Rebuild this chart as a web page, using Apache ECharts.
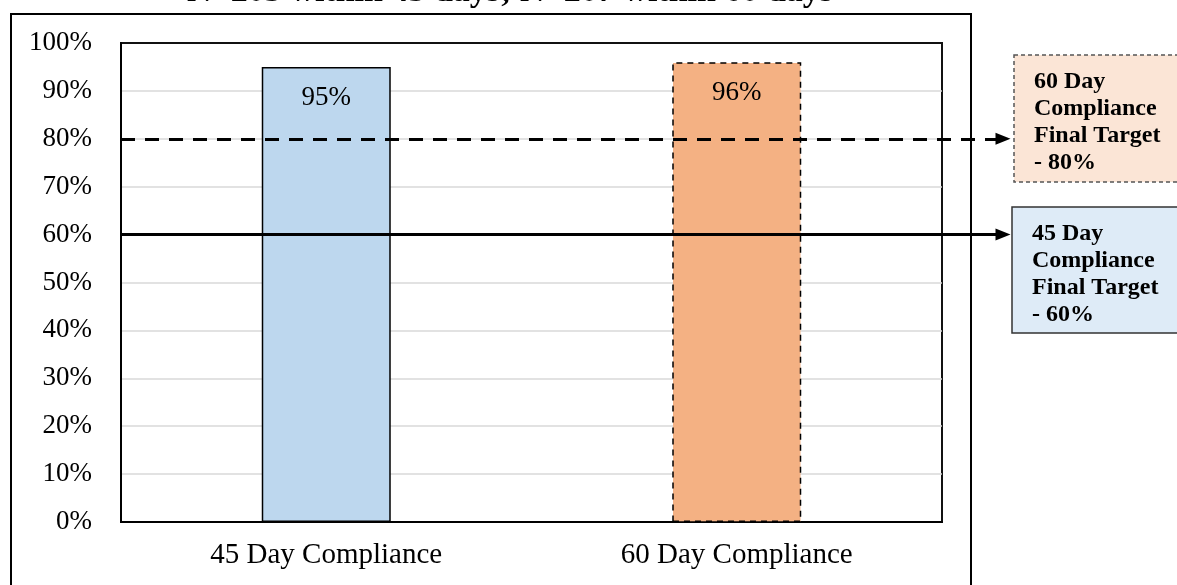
<!DOCTYPE html>
<html>
<head>
<meta charset="utf-8">
<script src="https://cdn.jsdelivr.net/npm/echarts@6/dist/echarts.min.js"></script>
<style>
  html, body { margin: 0; padding: 0; background: #fff; }
  #chart { width: 1177px; height: 585px; }
</style>
</head>
<body>
<div id="chart"></div>
<script>
const categories = ['45 Day Compliance', '60 Day Compliance']
const compliance = [95, 96]
const targets = [80, 60]
const yTicks = [0, 10, 20, 30, 40, 50, 60, 70, 80, 90, 100]
const titleText = 'N=203 within 45 days; N=207 within 60 days'

const serif = '"Liberation Serif", "DejaVu Serif", serif'

const chart = echarts.init(document.getElementById('chart'))

const option = {
  animation: false,
  backgroundColor: '#fff',
  grid: [
    { left: 121, right: 235, top: 43, bottom: 63, show: true, borderColor: '#111', borderWidth: 2 },
    { left: 121, right: 174, top: 43, bottom: 63 }
  ],
  xAxis: [
    {
      type: 'category',
      gridIndex: 0,
      data: categories,
      axisTick: { show: false },
      axisLine: { lineStyle: { color: '#000', width: 2 } },
      axisLabel: { color: '#000', fontFamily: serif, fontSize: 29, margin: 19 }
    },
    { type: 'value', gridIndex: 1, min: 0, max: 1, show: false }
  ],
  yAxis: [
    {
      type: 'value',
      gridIndex: 0,
      min: yTicks[0],
      max: yTicks[yTicks.length - 1],
      interval: 10,
      axisLine: { show: true, lineStyle: { color: '#000', width: 2 } },
      axisTick: { show: false },
      axisLabel: { color: '#000', fontFamily: serif, fontSize: 27, margin: 29, formatter: '{value}%' },
      splitLine: { showMaxLine: false, lineStyle: { color: '#d9d9d9', width: 1.5 } }
    },
    { type: 'value', gridIndex: 1, min: 0, max: 100, show: false }
  ],
  series: [
    {
      type: 'bar',
      barWidth: 129,
      data: compliance.map((v, i) => ({
        value: v,
        itemStyle: i === 0
          ? { color: '#bdd7ee', borderColor: '#000', borderWidth: 1.5 }
          : { color: '#f4b183', borderColor: '#000', borderWidth: 1.5, borderType: [6, 5] }
      })),
      label: {
        show: true,
        position: 'insideTop',
        distance: 17,
        color: '#000',
        fontFamily: serif,
        fontSize: 27,
        formatter: '{c}%'
      },
      z: 2
    },
    {
      type: 'line',
      xAxisIndex: 1,
      yAxisIndex: 1,
      data: [],
      z: 5,
      markLine: {
        silent: true,
        symbol: ['none', 'triangle'],
        symbolSize: [12, 15],
        label: { show: false },
        data: [
          [
            { coord: [0, targets[0]], lineStyle: { color: '#000', width: 3, type: [14, 10] } },
            { coord: [1, targets[0]] }
          ],
          [
            { coord: [0, targets[1]], lineStyle: { color: '#000', width: 3, type: 'solid' } },
            { coord: [1, targets[1]] }
          ]
        ]
      }
    }
  ],
  graphic: [
    {
      type: 'rect',
      shape: { x: 11, y: 14, width: 960, height: 600 },
      style: { fill: 'none', stroke: '#000', lineWidth: 2 },
      z: 0
    },
    {
      type: 'text',
      x: 510,
      y: -25,
      style: {
        text: titleText,
        fill: '#000',
        font: 'bold 34px ' + serif,
        textAlign: 'center',
        textVerticalAlign: 'top'
      }
    },
    {
      type: 'rect',
      shape: { x: 1014, y: 55, width: 200, height: 127 },
      style: { fill: '#fbe5d6', stroke: '#555', lineWidth: 1.5, lineDash: [4, 3] }
    },
    {
      type: 'text',
      x: 1034,
      y: 68,
      style: {
        text: '60 Day\nCompliance\nFinal Target\n- 80%',
        fill: '#000',
        font: 'bold 24px ' + serif,
        lineHeight: 27,
        textVerticalAlign: 'top'
      }
    },
    {
      type: 'rect',
      shape: { x: 1012, y: 207, width: 200, height: 126 },
      style: { fill: '#deebf7', stroke: '#333', lineWidth: 1.5 }
    },
    {
      type: 'text',
      x: 1032,
      y: 220,
      style: {
        text: '45 Day\nCompliance\nFinal Target\n- 60%',
        fill: '#000',
        font: 'bold 24px ' + serif,
        lineHeight: 27,
        textVerticalAlign: 'top'
      }
    }
  ]
}

chart.setOption(option)
</script>
</body>
</html>
